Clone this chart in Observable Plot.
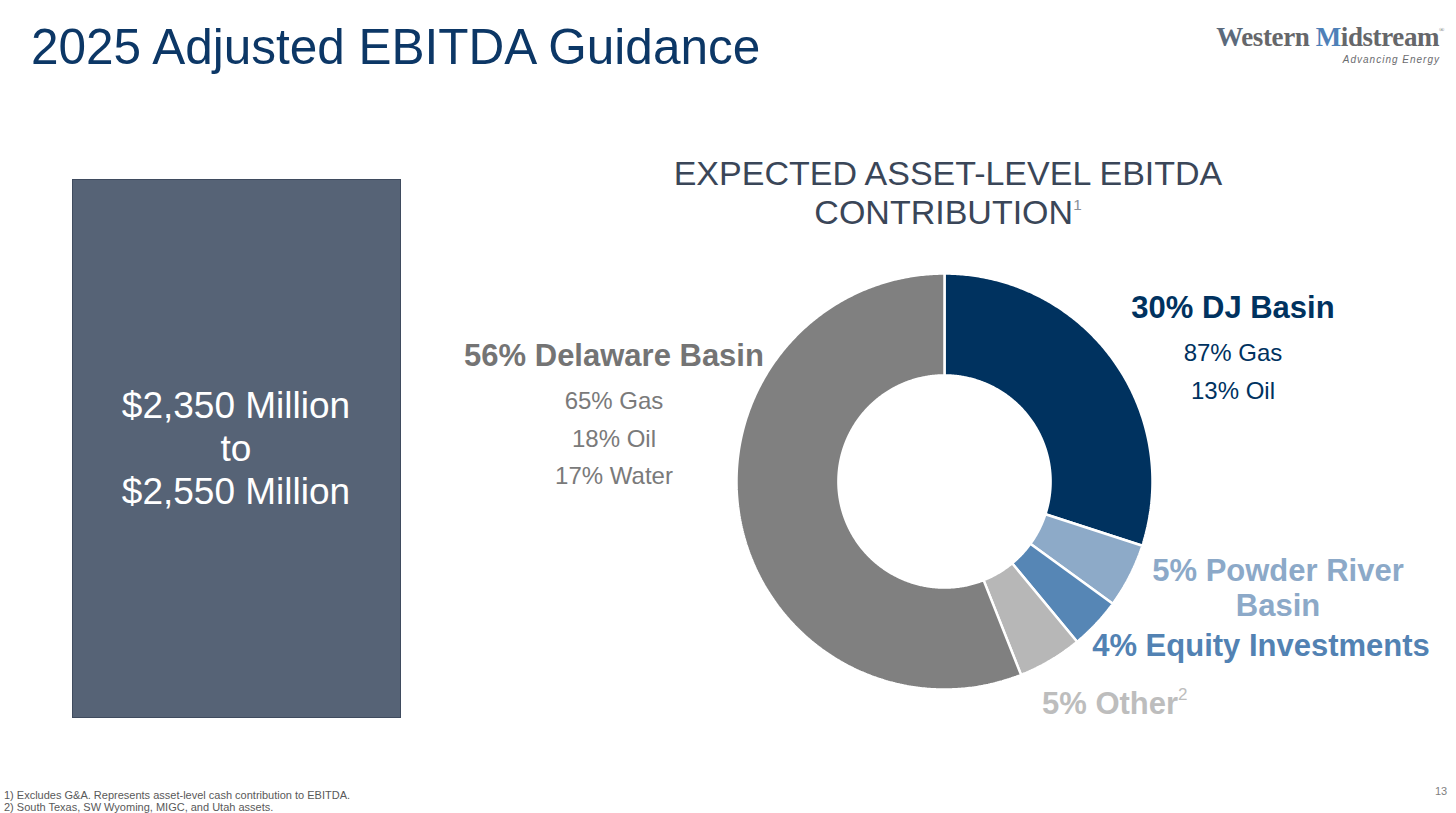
<!DOCTYPE html>
<html>
<head>
<meta charset="utf-8">
<script src="https://cdn.jsdelivr.net/npm/d3@7"></script>
<script src="https://cdn.jsdelivr.net/npm/@observablehq/plot@0.6"></script>
<style>
  html, body { margin: 0; padding: 0; background: #fff; }
  #slide { position: relative; width: 1456px; height: 813px; overflow: hidden; font-family: "Liberation Sans", Arial, sans-serif; }
  .abs { position: absolute; white-space: nowrap; }
  .ctr { transform: translateX(-50%); text-align: center; }
  #title { left: 31px; top: 18px; font-size: 49.5px; color: #0C3766; line-height: 58px; }
  #logo { right: 12px; top: 15px; text-align: right; }
  #logo .name { font-family: "Liberation Serif", "DejaVu Serif", serif; font-weight: bold; font-size: 27px; color: #66676A; letter-spacing: -0.4px; line-height: 30px; }
  #logo .tag { font-family: "Liberation Sans", sans-serif; font-style: italic; font-size: 10px; color: #6B6C6F; letter-spacing: 1px; margin-top: 2px; margin-right: 4px; }
  #box { left: 72px; top: 179px; width: 329px; height: 539px; background: #566376; border: 1px solid #3F4B5E; box-sizing: border-box; }
  #boxtext { left: 236px; top: 384px; font-size: 37px; color: #fff; line-height: 43px; }
  #ctitle { left: 948px; top: 154px; font-size: 34px; color: #3A4658; line-height: 39px; }
  sup.s { font-size: 0.45em; color: #8A8F97; vertical-align: 0.9em; line-height: 0; }
  .big { font-weight: bold; font-size: 31px; line-height: 35px; }
  .sub { font-size: 24px; line-height: 37.5px; }
  .first { margin-top: 9px; }
  #donut { position: absolute; left: 724px; top: 261px; }
  #foot { left: 4px; top: 790px; font-size: 11px; color: #595959; line-height: 11.5px; }
  #page { left: 1435px; top: 785px; font-size: 11px; color: #7F7F7F; }
</style>
</head>
<body>
<div id="slide"></div>
<script>
// ---- data ----
const segments = ["DJ Basin", "Powder River Basin", "Equity Investments", "Other", "Delaware Basin"];
const shares = [30, 5, 4, 5, 56];
const segmentColors = ["#00325F", "#8DAAC8", "#5686B5", "#B7B7B7", "#808080"];
const labelColors = ["#00325F", "#8CA9C8", "#5282B3", "#BDBDBD", "#747474"];
const djProducts = ["Gas", "Oil"];
const djProductShares = [87, 13];
const delawareProducts = ["Gas", "Oil", "Water"];
const delawareProductShares = [65, 18, 17];
const guidanceLow = 2350;
const guidanceHigh = 2550;
const footnotes = [
  "1) Excludes G&A. Represents asset-level cash contribution to EBITDA.",
  "2) South Texas, SW Wyoming, MIGC, and Utah assets."
];

const slide = document.getElementById("slide");
function add(id, cls, html) {
  const el = document.createElement("div");
  if (id) el.id = id;
  el.className = cls;
  el.innerHTML = html;
  slide.appendChild(el);
  return el;
}

add("title", "abs", "2025 Adjusted EBITDA Guidance");
add("logo", "abs", '<div class="name"><span style="color:#5B6A7C">W</span>estern <span style="color:#4E80B8">M</span>idstream<sup style="font-size:7px;vertical-align:14px;font-weight:normal">®</sup></div><div class="tag">Advancing Energy</div>');
add("box", "abs", "");
const fmt = d3.format(",");
add("boxtext", "abs ctr", `$${fmt(guidanceLow)} Million<br>to<br>$${fmt(guidanceHigh)} Million`);
add("ctitle", "abs ctr", 'EXPECTED ASSET-LEVEL EBITDA<br>CONTRIBUTION<sup class="s">1</sup>');

// labels
const idx = n => segments.indexOf(n);
const dj = idx("DJ Basin"), prb = idx("Powder River Basin"), eq = idx("Equity Investments"), oth = idx("Other"), del = idx("Delaware Basin");
const subs = (names, vals) => names.map((p, i) => `<div class="sub${i === 0 ? " first" : ""}">${vals[i]}% ${p}</div>`).join("");
const l1 = add(null, "abs ctr", `<div class="big">${shares[del]}% Delaware Basin</div>` + subs(delawareProducts, delawareProductShares));
l1.style.cssText = `left:614px;top:338px;color:${labelColors[del]};`;
l1.querySelectorAll(".sub").forEach(e => e.style.color = "#7A7A7A");
const l2 = add(null, "abs ctr", `<div class="big">${shares[dj]}% DJ Basin</div>` + subs(djProducts, djProductShares));
l2.style.cssText = `left:1233px;top:290px;color:${labelColors[dj]};`;
const l3 = add(null, "abs ctr", `<div class="big">${shares[prb]}% Powder River<br>Basin</div>`);
l3.style.cssText = `left:1278px;top:553px;color:${labelColors[prb]};`;
const l4 = add(null, "abs ctr", `<div class="big">${shares[eq]}% Equity Investments</div>`);
l4.style.cssText = `left:1261px;top:628px;color:${labelColors[eq]};`;
const l5 = add(null, "abs", `<div class="big">${shares[oth]}% Other<sup style="font-size:0.55em;font-weight:normal;vertical-align:0.8em;line-height:0">2</sup></div>`);
l5.style.cssText = `left:1042px;top:686px;color:${labelColors[oth]};`;

add("foot", "abs", footnotes.join("<br>"));
add("page", "abs", "13");

// ---- donut via Plot.geo ----
const R = 1, r = 0.51;
const total = d3.sum(shares);
let acc = 0;
const features = segments.map((name, i) => {
  const a0 = acc / total * 2 * Math.PI;
  acc += shares[i];
  const a1 = acc / total * 2 * Math.PI;
  const n = Math.max(2, Math.ceil((a1 - a0) / (Math.PI / 360)));
  const ring = [];
  for (let k = 0; k <= n; k++) { const a = a0 + (a1 - a0) * k / n; ring.push([R * Math.sin(a), R * Math.cos(a)]); }
  for (let k = n; k >= 0; k--) { const a = a0 + (a1 - a0) * k / n; ring.push([r * Math.sin(a), r * Math.cos(a)]); }
  ring.push(ring[0]);
  return { type: "Feature", properties: { name, share: shares[i] }, geometry: { type: "Polygon", coordinates: [ring] } };
});
const collection = { type: "FeatureCollection", features };

const chart = Plot.plot({
  width: 440,
  height: 440,
  margin: 0,
  projection: { type: "reflect-y", domain: collection, inset: 12 },
  color: { type: "ordinal", domain: segments, range: segmentColors },
  marks: [
    Plot.geo(features, { fill: d => d.properties.name, stroke: "white", strokeWidth: 2.5, strokeLinejoin: "miter" })
  ]
});
chart.id = "donut";
slide.appendChild(chart);
</script>
</body>
</html>
